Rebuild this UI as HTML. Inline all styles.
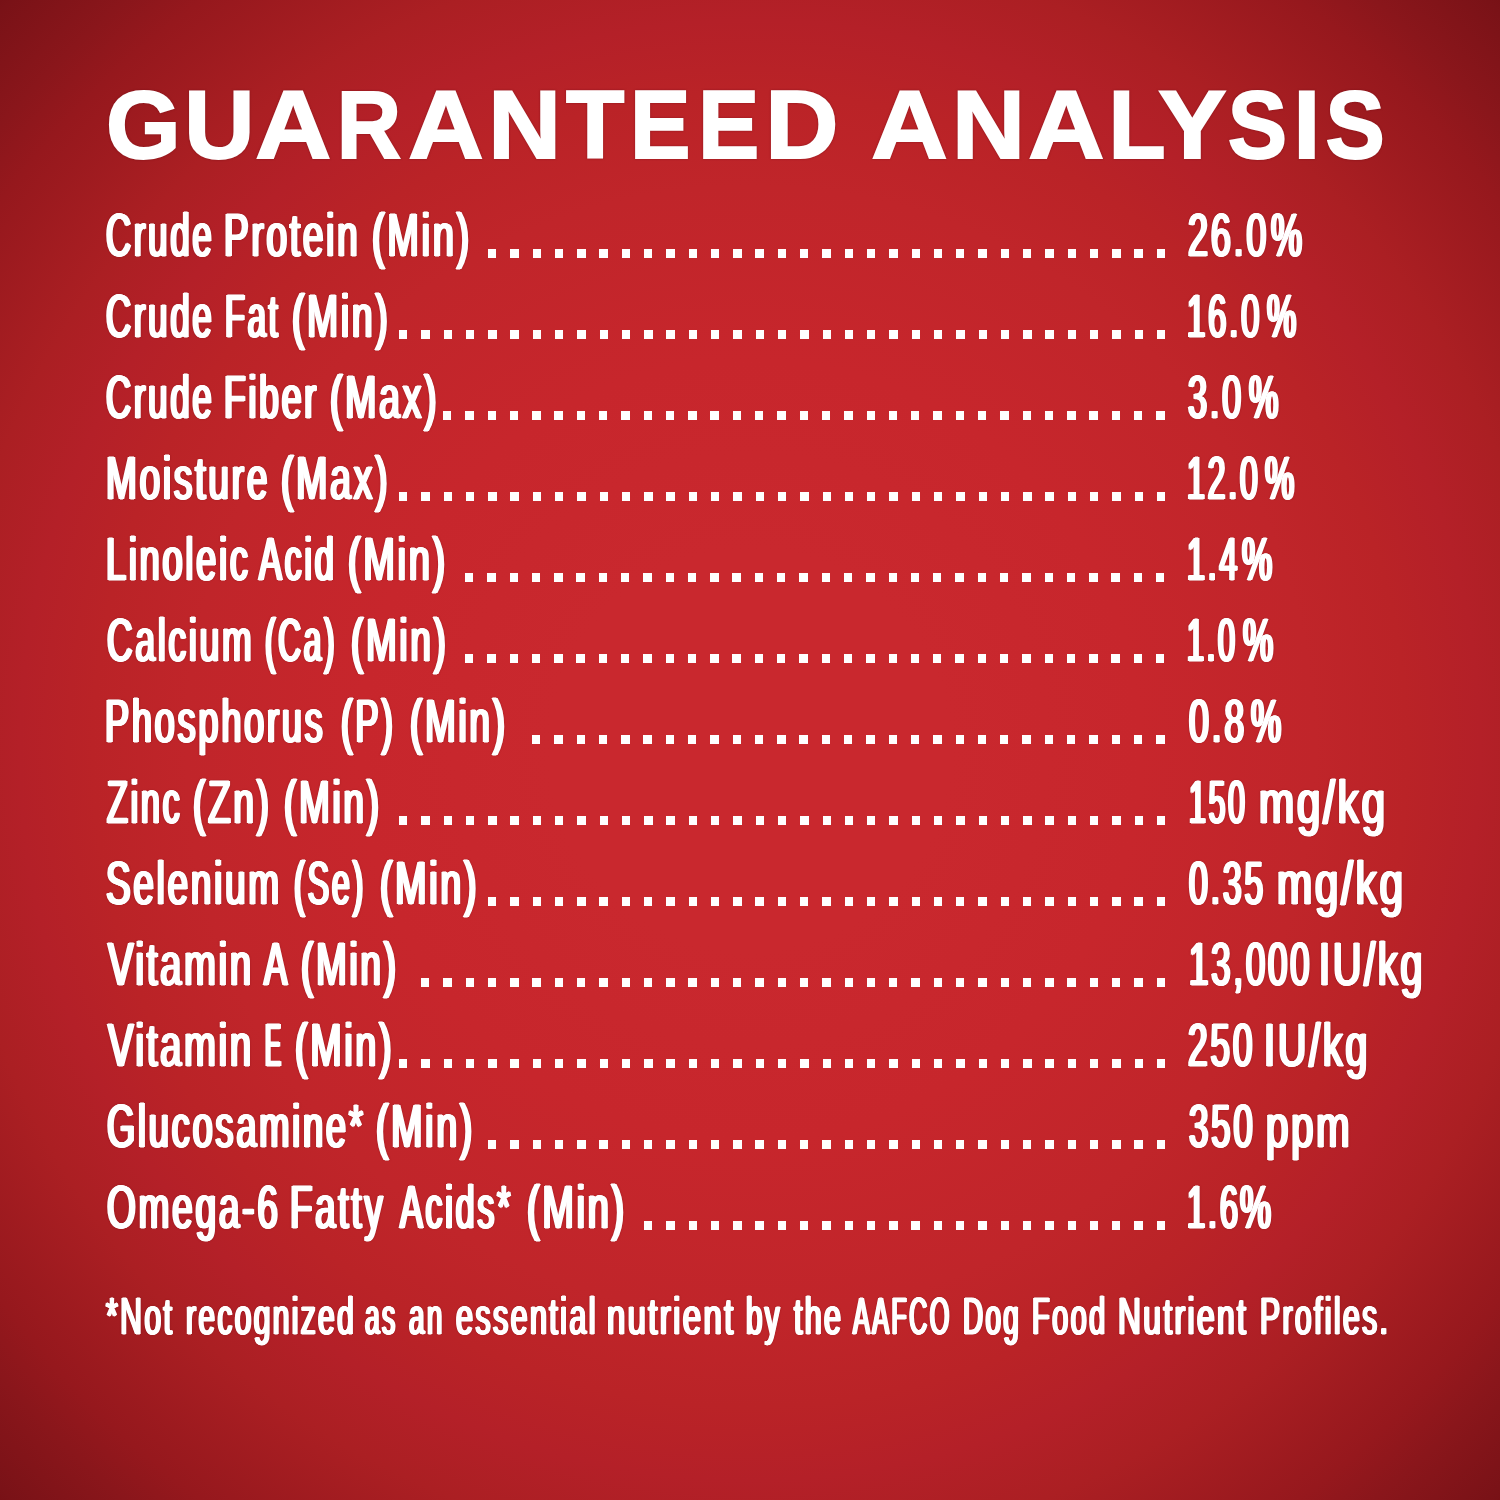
<!DOCTYPE html>
<html lang="en">
<head>
<meta charset="utf-8">
<title>Guaranteed Analysis</title>
<style>
html,body{margin:0;padding:0}
html{background:#781116}
body{width:1500px;height:1500px;overflow:hidden;position:relative;font-family:"Liberation Sans", sans-serif;color:#fff;
background:radial-gradient(circle 1061px at 750px 750px,#c9282e 0.0px,#c9282e 200.0px,#c7262c 390.0px,#c0252a 564.0px,#ba2327 657.0px,#b42028 730.0px,#ab1f23 804.0px,#96181d 928.0px,#8a161b 976.0px,#7a1217 1052.0px,#781116 1061.0px)}
.r{margin:0}
.t{position:absolute;white-space:pre;line-height:1;font-weight:normal;transform-origin:0 0;color:#fff}
.d{position:absolute;display:block;height:8.40px;
background:repeating-linear-gradient(90deg,#fff 0,#fff 8.40px,transparent 8.40px,transparent 22.290px)}
svg{position:absolute;left:0;top:0;filter:drop-shadow(0 0 1.2px rgba(105,10,16,.55))}
svg text{font-family:"Liberation Sans", sans-serif;font-weight:bold;font-size:96.08px;fill:#fff;stroke:#fff;stroke-width:2.00px;stroke-linejoin:miter}
</style>
</head>
<body>
<svg width="1500" height="200" viewBox="0 0 1500 200" role="heading" aria-label="GUARANTEED ANALYSIS"><text transform="translate(106.07 158.00) scale(0.9990 1.0000)">G</text><text transform="translate(184.23 158.00) scale(1.0121 1.0000)">U</text><text transform="translate(255.26 158.00) scale(1.0932 1.0000)">A</text><text transform="translate(336.74 158.00) scale(0.9272 1.0000)">R</text><text transform="translate(408.28 158.00) scale(1.0854 1.0000)">A</text><text transform="translate(488.21 158.00) scale(1.0491 1.0000)">N</text><text transform="translate(566.01 158.00) scale(0.9947 1.0000)">T</text><text transform="translate(630.04 158.00) scale(0.9432 1.0000)">E</text><text transform="translate(697.96 158.00) scale(0.9560 1.0000)">E</text><text transform="translate(765.37 158.00) scale(1.0542 1.0000)">D</text><text transform="translate(871.24 158.00) scale(1.1009 1.0000)">A</text><text transform="translate(951.98 158.00) scale(1.0526 1.0000)">N</text><text transform="translate(1028.25 158.00) scale(1.0963 1.0000)">A</text><text transform="translate(1108.46 158.00) scale(0.9740 1.0000)">L</text><text transform="translate(1158.33 158.00) scale(1.0631 1.0000)">Y</text><text transform="translate(1227.79 158.00) scale(0.9266 1.0000)">S</text><text transform="translate(1293.41 158.00) scale(0.9979 1.0000)">I</text><text transform="translate(1325.59 158.00) scale(0.9249 1.0000)">S</text></svg>
<div class="r"><span class="t" style="left:106.18px;top:205.21px;font-size:61.05px;letter-spacing:4.93px;-webkit-text-stroke:1.00px #fff;text-shadow:2.46px 0 0 #fff,-2.46px 0 0 #fff,1.23px 0 0 #fff,-1.23px 0 0 #fff,2.46px 0 2.0px rgba(105,10,16,.55),-2.46px 0 2.0px rgba(105,10,16,.55);transform:scaleX(0.5685)">Crude</span> <span class="t" style="left:224.38px;top:205.21px;font-size:61.05px;letter-spacing:4.63px;-webkit-text-stroke:1.00px #fff;text-shadow:2.32px 0 0 #fff,-2.32px 0 0 #fff,1.16px 0 0 #fff,-1.16px 0 0 #fff,2.32px 0 2.0px rgba(105,10,16,.55),-2.32px 0 2.0px rgba(105,10,16,.55);transform:scaleX(0.6043)">Protein</span> <span class="t" style="left:371.70px;top:205.21px;font-size:61.05px;letter-spacing:4.53px;-webkit-text-stroke:1.00px #fff;text-shadow:2.26px 0 0 #fff,-2.26px 0 0 #fff,1.13px 0 0 #fff,-1.13px 0 0 #fff,2.26px 0 2.0px rgba(105,10,16,.55),-2.26px 0 2.0px rgba(105,10,16,.55);transform:scaleX(0.6184)">(Min)</span><i class="d" style="left:487.70px;top:249.20px;width:677.10px"></i><span class="t" style="left:1188.43px;top:205.21px;font-size:61.05px;letter-spacing:4.76px;-webkit-text-stroke:1.00px #fff;text-shadow:2.38px 0 0 #fff,-2.38px 0 0 #fff,1.19px 0 0 #fff,-1.19px 0 0 #fff,2.38px 0 2.0px rgba(105,10,16,.55),-2.38px 0 2.0px rgba(105,10,16,.55);transform:scaleX(0.5885)">26.0</span><span class="t pc" style="left:1271.04px;top:205.21px;font-size:61.05px;letter-spacing:4.90px;-webkit-text-stroke:1.00px #fff;text-shadow:2.45px 0 0 #fff,-2.45px 0 0 #fff,1.23px 0 0 #fff,-1.23px 0 0 #fff,2.45px 0 2.0px rgba(105,10,16,.55),-2.45px 0 2.0px rgba(105,10,16,.55);transform:scaleX(0.5714)">%</span></div>
<div class="r"><span class="t" style="left:106.18px;top:286.21px;font-size:61.05px;letter-spacing:4.93px;-webkit-text-stroke:1.00px #fff;text-shadow:2.46px 0 0 #fff,-2.46px 0 0 #fff,1.23px 0 0 #fff,-1.23px 0 0 #fff,2.46px 0 2.0px rgba(105,10,16,.55),-2.46px 0 2.0px rgba(105,10,16,.55);transform:scaleX(0.5685)">Crude</span> <span class="t" style="left:224.69px;top:286.21px;font-size:61.05px;letter-spacing:5.24px;-webkit-text-stroke:1.00px #fff;text-shadow:2.62px 0 0 #fff,-2.62px 0 0 #fff,1.31px 0 0 #fff,-1.31px 0 0 #fff,2.62px 0 2.0px rgba(105,10,16,.55),-2.62px 0 2.0px rgba(105,10,16,.55);transform:scaleX(0.5345)">Fat</span> <span class="t" style="left:291.73px;top:286.21px;font-size:61.05px;letter-spacing:4.60px;-webkit-text-stroke:1.00px #fff;text-shadow:2.30px 0 0 #fff,-2.30px 0 0 #fff,1.15px 0 0 #fff,-1.15px 0 0 #fff,2.30px 0 2.0px rgba(105,10,16,.55),-2.30px 0 2.0px rgba(105,10,16,.55);transform:scaleX(0.6086)">(Min)</span><i class="d" style="left:398.54px;top:330.20px;width:766.26px"></i><span class="t" style="left:1187.19px;top:286.21px;font-size:61.05px;letter-spacing:5.19px;-webkit-text-stroke:1.00px #fff;text-shadow:2.60px 0 0 #fff,-2.60px 0 0 #fff,1.30px 0 0 #fff,-1.30px 0 0 #fff,2.60px 0 2.0px rgba(105,10,16,.55),-2.60px 0 2.0px rgba(105,10,16,.55);transform:scaleX(0.5392)">16.0</span><span class="t pc" style="left:1266.99px;top:286.21px;font-size:61.05px;letter-spacing:5.20px;-webkit-text-stroke:1.00px #fff;text-shadow:2.60px 0 0 #fff,-2.60px 0 0 #fff,1.30px 0 0 #fff,-1.30px 0 0 #fff,2.60px 0 2.0px rgba(105,10,16,.55),-2.60px 0 2.0px rgba(105,10,16,.55);transform:scaleX(0.5381)">%</span></div>
<div class="r"><span class="t" style="left:106.18px;top:367.21px;font-size:61.05px;letter-spacing:4.93px;-webkit-text-stroke:1.00px #fff;text-shadow:2.46px 0 0 #fff,-2.46px 0 0 #fff,1.23px 0 0 #fff,-1.23px 0 0 #fff,2.46px 0 2.0px rgba(105,10,16,.55),-2.46px 0 2.0px rgba(105,10,16,.55);transform:scaleX(0.5685)">Crude</span> <span class="t" style="left:224.48px;top:367.21px;font-size:61.05px;letter-spacing:4.81px;-webkit-text-stroke:1.00px #fff;text-shadow:2.41px 0 0 #fff,-2.41px 0 0 #fff,1.20px 0 0 #fff,-1.20px 0 0 #fff,2.41px 0 2.0px rgba(105,10,16,.55),-2.41px 0 2.0px rgba(105,10,16,.55);transform:scaleX(0.5817)">Fiber</span> <span class="t" style="left:330.42px;top:367.21px;font-size:61.05px;letter-spacing:4.58px;-webkit-text-stroke:1.00px #fff;text-shadow:2.29px 0 0 #fff,-2.29px 0 0 #fff,1.14px 0 0 #fff,-1.14px 0 0 #fff,2.29px 0 2.0px rgba(105,10,16,.55),-2.29px 0 2.0px rgba(105,10,16,.55);transform:scaleX(0.6117)">(Max)</span><i class="d" style="left:443.12px;top:411.20px;width:721.68px"></i><span class="t" style="left:1187.76px;top:367.21px;font-size:61.05px;letter-spacing:4.99px;-webkit-text-stroke:1.00px #fff;text-shadow:2.50px 0 0 #fff,-2.50px 0 0 #fff,1.25px 0 0 #fff,-1.25px 0 0 #fff,2.50px 0 2.0px rgba(105,10,16,.55),-2.50px 0 2.0px rgba(105,10,16,.55);transform:scaleX(0.5610)">3.0</span><span class="t pc" style="left:1249.39px;top:367.21px;font-size:61.05px;letter-spacing:5.18px;-webkit-text-stroke:1.00px #fff;text-shadow:2.59px 0 0 #fff,-2.59px 0 0 #fff,1.30px 0 0 #fff,-1.30px 0 0 #fff,2.59px 0 2.0px rgba(105,10,16,.55),-2.59px 0 2.0px rgba(105,10,16,.55);transform:scaleX(0.5401)">%</span></div>
<div class="r"><span class="t" style="left:105.68px;top:448.21px;font-size:61.05px;letter-spacing:4.63px;-webkit-text-stroke:1.00px #fff;text-shadow:2.31px 0 0 #fff,-2.31px 0 0 #fff,1.16px 0 0 #fff,-1.16px 0 0 #fff,2.31px 0 2.0px rgba(105,10,16,.55),-2.31px 0 2.0px rgba(105,10,16,.55);transform:scaleX(0.6054)">Moisture</span> <span class="t" style="left:281.12px;top:448.21px;font-size:61.05px;letter-spacing:4.58px;-webkit-text-stroke:1.00px #fff;text-shadow:2.29px 0 0 #fff,-2.29px 0 0 #fff,1.14px 0 0 #fff,-1.14px 0 0 #fff,2.29px 0 2.0px rgba(105,10,16,.55),-2.29px 0 2.0px rgba(105,10,16,.55);transform:scaleX(0.6117)">(Max)</span><i class="d" style="left:398.54px;top:492.20px;width:766.26px"></i><span class="t" style="left:1187.25px;top:448.21px;font-size:61.05px;letter-spacing:5.33px;-webkit-text-stroke:1.00px #fff;text-shadow:2.67px 0 0 #fff,-2.67px 0 0 #fff,1.33px 0 0 #fff,-1.33px 0 0 #fff,2.67px 0 2.0px rgba(105,10,16,.55),-2.67px 0 2.0px rgba(105,10,16,.55);transform:scaleX(0.5250)">12.0</span><span class="t pc" style="left:1265.39px;top:448.21px;font-size:61.05px;letter-spacing:5.20px;-webkit-text-stroke:1.00px #fff;text-shadow:2.60px 0 0 #fff,-2.60px 0 0 #fff,1.30px 0 0 #fff,-1.30px 0 0 #fff,2.60px 0 2.0px rgba(105,10,16,.55),-2.60px 0 2.0px rgba(105,10,16,.55);transform:scaleX(0.5381)">%</span></div>
<div class="r"><span class="t" style="left:105.74px;top:529.21px;font-size:61.05px;letter-spacing:4.74px;-webkit-text-stroke:1.00px #fff;text-shadow:2.37px 0 0 #fff,-2.37px 0 0 #fff,1.18px 0 0 #fff,-1.18px 0 0 #fff,2.37px 0 2.0px rgba(105,10,16,.55),-2.37px 0 2.0px rgba(105,10,16,.55);transform:scaleX(0.5907)">Linoleic</span> <span class="t" style="left:259.38px;top:529.21px;font-size:61.05px;letter-spacing:5.01px;-webkit-text-stroke:1.00px #fff;text-shadow:2.51px 0 0 #fff,-2.51px 0 0 #fff,1.25px 0 0 #fff,-1.25px 0 0 #fff,2.51px 0 2.0px rgba(105,10,16,.55),-2.51px 0 2.0px rgba(105,10,16,.55);transform:scaleX(0.5586)">Acid</span> <span class="t" style="left:347.70px;top:529.21px;font-size:61.05px;letter-spacing:4.53px;-webkit-text-stroke:1.00px #fff;text-shadow:2.26px 0 0 #fff,-2.26px 0 0 #fff,1.13px 0 0 #fff,-1.13px 0 0 #fff,2.26px 0 2.0px rgba(105,10,16,.55),-2.26px 0 2.0px rgba(105,10,16,.55);transform:scaleX(0.6184)">(Min)</span><i class="d" style="left:465.41px;top:573.20px;width:699.39px"></i><span class="t" style="left:1187.24px;top:529.21px;font-size:61.05px;letter-spacing:5.31px;-webkit-text-stroke:1.00px #fff;text-shadow:2.65px 0 0 #fff,-2.65px 0 0 #fff,1.33px 0 0 #fff,-1.33px 0 0 #fff,2.65px 0 2.0px rgba(105,10,16,.55),-2.65px 0 2.0px rgba(105,10,16,.55);transform:scaleX(0.5275)">1.4</span><span class="t pc" style="left:1242.17px;top:529.21px;font-size:61.05px;letter-spacing:5.04px;-webkit-text-stroke:1.00px #fff;text-shadow:2.52px 0 0 #fff,-2.52px 0 0 #fff,1.26px 0 0 #fff,-1.26px 0 0 #fff,2.52px 0 2.0px rgba(105,10,16,.55),-2.52px 0 2.0px rgba(105,10,16,.55);transform:scaleX(0.5558)">%</span></div>
<div class="r"><span class="t" style="left:106.65px;top:610.21px;font-size:61.05px;letter-spacing:4.83px;-webkit-text-stroke:1.00px #fff;text-shadow:2.42px 0 0 #fff,-2.42px 0 0 #fff,1.21px 0 0 #fff,-1.21px 0 0 #fff,2.42px 0 2.0px rgba(105,10,16,.55),-2.42px 0 2.0px rgba(105,10,16,.55);transform:scaleX(0.5794)">Calcium</span> <span class="t" style="left:264.83px;top:610.21px;font-size:61.05px;letter-spacing:5.44px;-webkit-text-stroke:1.00px #fff;text-shadow:2.72px 0 0 #fff,-2.72px 0 0 #fff,1.36px 0 0 #fff,-1.36px 0 0 #fff,2.72px 0 2.0px rgba(105,10,16,.55),-2.72px 0 2.0px rgba(105,10,16,.55);transform:scaleX(0.5149)">(Ca)</span> <span class="t" style="left:351.15px;top:610.21px;font-size:61.05px;letter-spacing:4.65px;-webkit-text-stroke:1.00px #fff;text-shadow:2.33px 0 0 #fff,-2.33px 0 0 #fff,1.16px 0 0 #fff,-1.16px 0 0 #fff,2.33px 0 2.0px rgba(105,10,16,.55),-2.33px 0 2.0px rgba(105,10,16,.55);transform:scaleX(0.6018)">(Min)</span><i class="d" style="left:465.41px;top:654.20px;width:699.39px"></i><span class="t" style="left:1187.36px;top:610.21px;font-size:61.05px;letter-spacing:5.61px;-webkit-text-stroke:1.00px #fff;text-shadow:2.81px 0 0 #fff,-2.81px 0 0 #fff,1.40px 0 0 #fff,-1.40px 0 0 #fff,2.81px 0 2.0px rgba(105,10,16,.55),-2.81px 0 2.0px rgba(105,10,16,.55);transform:scaleX(0.4987)">1.0</span><span class="t pc" style="left:1242.97px;top:610.21px;font-size:61.05px;letter-spacing:5.04px;-webkit-text-stroke:1.00px #fff;text-shadow:2.52px 0 0 #fff,-2.52px 0 0 #fff,1.26px 0 0 #fff,-1.26px 0 0 #fff,2.52px 0 2.0px rgba(105,10,16,.55),-2.52px 0 2.0px rgba(105,10,16,.55);transform:scaleX(0.5558)">%</span></div>
<div class="r"><span class="t" style="left:105.44px;top:691.21px;font-size:61.05px;letter-spacing:4.74px;-webkit-text-stroke:1.00px #fff;text-shadow:2.37px 0 0 #fff,-2.37px 0 0 #fff,1.18px 0 0 #fff,-1.18px 0 0 #fff,2.37px 0 2.0px rgba(105,10,16,.55),-2.37px 0 2.0px rgba(105,10,16,.55);transform:scaleX(0.5909)">Phosphorus</span> <span class="t" style="left:340.95px;top:691.21px;font-size:61.05px;letter-spacing:4.91px;-webkit-text-stroke:1.00px #fff;text-shadow:2.46px 0 0 #fff,-2.46px 0 0 #fff,1.23px 0 0 #fff,-1.23px 0 0 #fff,2.46px 0 2.0px rgba(105,10,16,.55),-2.46px 0 2.0px rgba(105,10,16,.55);transform:scaleX(0.5700)">(P)</span> <span class="t" style="left:409.75px;top:691.21px;font-size:61.05px;letter-spacing:4.65px;-webkit-text-stroke:1.00px #fff;text-shadow:2.32px 0 0 #fff,-2.32px 0 0 #fff,1.16px 0 0 #fff,-1.16px 0 0 #fff,2.32px 0 2.0px rgba(105,10,16,.55),-2.32px 0 2.0px rgba(105,10,16,.55);transform:scaleX(0.6026)">(Min)</span><i class="d" style="left:532.28px;top:735.20px;width:632.52px"></i><span class="t" style="left:1188.52px;top:691.21px;font-size:61.05px;letter-spacing:4.78px;-webkit-text-stroke:1.00px #fff;text-shadow:2.39px 0 0 #fff,-2.39px 0 0 #fff,1.20px 0 0 #fff,-1.20px 0 0 #fff,2.39px 0 2.0px rgba(105,10,16,.55),-2.39px 0 2.0px rgba(105,10,16,.55);transform:scaleX(0.5853)">0.8</span><span class="t pc" style="left:1250.97px;top:691.21px;font-size:61.05px;letter-spacing:5.04px;-webkit-text-stroke:1.00px #fff;text-shadow:2.52px 0 0 #fff,-2.52px 0 0 #fff,1.26px 0 0 #fff,-1.26px 0 0 #fff,2.52px 0 2.0px rgba(105,10,16,.55),-2.52px 0 2.0px rgba(105,10,16,.55);transform:scaleX(0.5558)">%</span></div>
<div class="r"><span class="t" style="left:106.72px;top:772.21px;font-size:61.05px;letter-spacing:5.02px;-webkit-text-stroke:1.00px #fff;text-shadow:2.51px 0 0 #fff,-2.51px 0 0 #fff,1.25px 0 0 #fff,-1.25px 0 0 #fff,2.51px 0 2.0px rgba(105,10,16,.55),-2.51px 0 2.0px rgba(105,10,16,.55);transform:scaleX(0.5579)">Zinc</span> <span class="t" style="left:192.74px;top:772.21px;font-size:61.05px;letter-spacing:4.63px;-webkit-text-stroke:1.00px #fff;text-shadow:2.32px 0 0 #fff,-2.32px 0 0 #fff,1.16px 0 0 #fff,-1.16px 0 0 #fff,2.32px 0 2.0px rgba(105,10,16,.55),-2.32px 0 2.0px rgba(105,10,16,.55);transform:scaleX(0.6042)">(Zn)</span> <span class="t" style="left:283.65px;top:772.21px;font-size:61.05px;letter-spacing:4.65px;-webkit-text-stroke:1.00px #fff;text-shadow:2.32px 0 0 #fff,-2.32px 0 0 #fff,1.16px 0 0 #fff,-1.16px 0 0 #fff,2.32px 0 2.0px rgba(105,10,16,.55),-2.32px 0 2.0px rgba(105,10,16,.55);transform:scaleX(0.6026)">(Min)</span><i class="d" style="left:398.54px;top:816.20px;width:766.26px"></i><span class="t" style="left:1189.38px;top:772.21px;font-size:61.05px;letter-spacing:5.67px;-webkit-text-stroke:1.00px #fff;text-shadow:2.84px 0 0 #fff,-2.84px 0 0 #fff,1.42px 0 0 #fff,-1.42px 0 0 #fff,2.84px 0 2.0px rgba(105,10,16,.55),-2.84px 0 2.0px rgba(105,10,16,.55);transform:scaleX(0.4937)">150</span> <span class="t" style="left:1258.98px;top:772.21px;font-size:61.05px;letter-spacing:4.05px;-webkit-text-stroke:1.00px #fff;text-shadow:2.03px 0 0 #fff,-2.03px 0 0 #fff,1.01px 0 0 #fff,-1.01px 0 0 #fff,2.03px 0 2.0px rgba(105,10,16,.55),-2.03px 0 2.0px rgba(105,10,16,.55);transform:scaleX(0.6905)">mg/kg</span></div>
<div class="r"><span class="t" style="left:106.04px;top:853.21px;font-size:61.05px;letter-spacing:4.64px;-webkit-text-stroke:1.00px #fff;text-shadow:2.32px 0 0 #fff,-2.32px 0 0 #fff,1.16px 0 0 #fff,-1.16px 0 0 #fff,2.32px 0 2.0px rgba(105,10,16,.55),-2.32px 0 2.0px rgba(105,10,16,.55);transform:scaleX(0.6029)">Selenium</span> <span class="t" style="left:294.19px;top:853.21px;font-size:61.05px;letter-spacing:5.30px;-webkit-text-stroke:1.00px #fff;text-shadow:2.65px 0 0 #fff,-2.65px 0 0 #fff,1.33px 0 0 #fff,-1.33px 0 0 #fff,2.65px 0 2.0px rgba(105,10,16,.55),-2.65px 0 2.0px rgba(105,10,16,.55);transform:scaleX(0.5281)">(Se)</span> <span class="t" style="left:380.41px;top:853.21px;font-size:61.05px;letter-spacing:4.57px;-webkit-text-stroke:1.00px #fff;text-shadow:2.28px 0 0 #fff,-2.28px 0 0 #fff,1.14px 0 0 #fff,-1.14px 0 0 #fff,2.28px 0 2.0px rgba(105,10,16,.55),-2.28px 0 2.0px rgba(105,10,16,.55);transform:scaleX(0.6132)">(Min)</span><i class="d" style="left:487.70px;top:897.20px;width:677.10px"></i><span class="t" style="left:1188.57px;top:853.21px;font-size:61.05px;letter-spacing:5.05px;-webkit-text-stroke:1.00px #fff;text-shadow:2.53px 0 0 #fff,-2.53px 0 0 #fff,1.26px 0 0 #fff,-1.26px 0 0 #fff,2.53px 0 2.0px rgba(105,10,16,.55),-2.53px 0 2.0px rgba(105,10,16,.55);transform:scaleX(0.5541)">0.35</span> <span class="t" style="left:1276.98px;top:853.21px;font-size:61.05px;letter-spacing:4.05px;-webkit-text-stroke:1.00px #fff;text-shadow:2.03px 0 0 #fff,-2.03px 0 0 #fff,1.01px 0 0 #fff,-1.01px 0 0 #fff,2.03px 0 2.0px rgba(105,10,16,.55),-2.03px 0 2.0px rgba(105,10,16,.55);transform:scaleX(0.6905)">mg/kg</span></div>
<div class="r"><span class="t" style="left:107.81px;top:934.21px;font-size:61.05px;letter-spacing:4.49px;-webkit-text-stroke:1.00px #fff;text-shadow:2.24px 0 0 #fff,-2.24px 0 0 #fff,1.12px 0 0 #fff,-1.12px 0 0 #fff,2.24px 0 2.0px rgba(105,10,16,.55),-2.24px 0 2.0px rgba(105,10,16,.55);transform:scaleX(0.6240)">Vitamin</span> <span class="t" style="left:263.88px;top:934.21px;font-size:61.05px;letter-spacing:4.92px;-webkit-text-stroke:1.00px #fff;text-shadow:2.46px 0 0 #fff,-2.46px 0 0 #fff,1.23px 0 0 #fff,-1.23px 0 0 #fff,2.46px 0 2.0px rgba(105,10,16,.55),-2.46px 0 2.0px rgba(105,10,16,.55);transform:scaleX(0.5693)">A</span> <span class="t" style="left:301.25px;top:934.21px;font-size:61.05px;letter-spacing:4.65px;-webkit-text-stroke:1.00px #fff;text-shadow:2.32px 0 0 #fff,-2.32px 0 0 #fff,1.16px 0 0 #fff,-1.16px 0 0 #fff,2.32px 0 2.0px rgba(105,10,16,.55),-2.32px 0 2.0px rgba(105,10,16,.55);transform:scaleX(0.6026)">(Min)</span><i class="d" style="left:420.83px;top:978.20px;width:743.97px"></i><span class="t" style="left:1189.06px;top:934.21px;font-size:61.05px;letter-spacing:4.90px;-webkit-text-stroke:1.00px #fff;text-shadow:2.45px 0 0 #fff,-2.45px 0 0 #fff,1.23px 0 0 #fff,-1.23px 0 0 #fff,2.45px 0 2.0px rgba(105,10,16,.55),-2.45px 0 2.0px rgba(105,10,16,.55);transform:scaleX(0.5709)">13,000</span> <span class="t" style="left:1319.12px;top:934.21px;font-size:61.05px;letter-spacing:4.33px;-webkit-text-stroke:1.00px #fff;text-shadow:2.16px 0 0 #fff,-2.16px 0 0 #fff,1.08px 0 0 #fff,-1.08px 0 0 #fff,2.16px 0 2.0px rgba(105,10,16,.55),-2.16px 0 2.0px rgba(105,10,16,.55);transform:scaleX(0.6472)">IU/kg</span></div>
<div class="r"><span class="t" style="left:107.81px;top:1015.21px;font-size:61.05px;letter-spacing:4.49px;-webkit-text-stroke:1.00px #fff;text-shadow:2.24px 0 0 #fff,-2.24px 0 0 #fff,1.12px 0 0 #fff,-1.12px 0 0 #fff,2.24px 0 2.0px rgba(105,10,16,.55),-2.24px 0 2.0px rgba(105,10,16,.55);transform:scaleX(0.6240)">Vitamin</span> <span class="t" style="left:264.73px;top:1015.21px;font-size:61.05px;letter-spacing:7.13px;-webkit-text-stroke:1.00px #fff;text-shadow:3.56px 0 0 #fff,-3.56px 0 0 #fff,1.78px 0 0 #fff,-1.78px 0 0 #fff,3.56px 0 2.0px rgba(105,10,16,.55),-3.56px 0 2.0px rgba(105,10,16,.55);transform:scaleX(0.3928)">E</span> <span class="t" style="left:295.31px;top:1015.21px;font-size:61.05px;letter-spacing:4.56px;-webkit-text-stroke:1.00px #fff;text-shadow:2.28px 0 0 #fff,-2.28px 0 0 #fff,1.14px 0 0 #fff,-1.14px 0 0 #fff,2.28px 0 2.0px rgba(105,10,16,.55),-2.28px 0 2.0px rgba(105,10,16,.55);transform:scaleX(0.6139)">(Min)</span><i class="d" style="left:398.54px;top:1059.20px;width:766.26px"></i><span class="t" style="left:1187.96px;top:1015.21px;font-size:61.05px;letter-spacing:4.85px;-webkit-text-stroke:1.00px #fff;text-shadow:2.42px 0 0 #fff,-2.42px 0 0 #fff,1.21px 0 0 #fff,-1.21px 0 0 #fff,2.42px 0 2.0px rgba(105,10,16,.55),-2.42px 0 2.0px rgba(105,10,16,.55);transform:scaleX(0.5776)">250</span> <span class="t" style="left:1264.12px;top:1015.21px;font-size:61.05px;letter-spacing:4.33px;-webkit-text-stroke:1.00px #fff;text-shadow:2.16px 0 0 #fff,-2.16px 0 0 #fff,1.08px 0 0 #fff,-1.08px 0 0 #fff,2.16px 0 2.0px rgba(105,10,16,.55),-2.16px 0 2.0px rgba(105,10,16,.55);transform:scaleX(0.6472)">IU/kg</span></div>
<div class="r"><span class="t" style="left:106.82px;top:1096.21px;font-size:61.05px;letter-spacing:4.73px;-webkit-text-stroke:1.00px #fff;text-shadow:2.36px 0 0 #fff,-2.36px 0 0 #fff,1.18px 0 0 #fff,-1.18px 0 0 #fff,2.36px 0 2.0px rgba(105,10,16,.55),-2.36px 0 2.0px rgba(105,10,16,.55);transform:scaleX(0.5923)">Glucosamine*</span> <span class="t" style="left:376.22px;top:1096.21px;font-size:61.05px;letter-spacing:4.57px;-webkit-text-stroke:1.00px #fff;text-shadow:2.29px 0 0 #fff,-2.29px 0 0 #fff,1.14px 0 0 #fff,-1.14px 0 0 #fff,2.29px 0 2.0px rgba(105,10,16,.55),-2.29px 0 2.0px rgba(105,10,16,.55);transform:scaleX(0.6124)">(Min)</span><i class="d" style="left:487.70px;top:1140.20px;width:677.10px"></i><span class="t" style="left:1188.54px;top:1096.21px;font-size:61.05px;letter-spacing:4.90px;-webkit-text-stroke:1.00px #fff;text-shadow:2.45px 0 0 #fff,-2.45px 0 0 #fff,1.22px 0 0 #fff,-1.22px 0 0 #fff,2.45px 0 2.0px rgba(105,10,16,.55),-2.45px 0 2.0px rgba(105,10,16,.55);transform:scaleX(0.5717)">350</span> <span class="t" style="left:1266.10px;top:1096.21px;font-size:61.05px;letter-spacing:4.26px;-webkit-text-stroke:1.00px #fff;text-shadow:2.13px 0 0 #fff,-2.13px 0 0 #fff,1.07px 0 0 #fff,-1.07px 0 0 #fff,2.13px 0 2.0px rgba(105,10,16,.55),-2.13px 0 2.0px rgba(105,10,16,.55);transform:scaleX(0.6571)">ppm</span></div>
<div class="r"><span class="t" style="left:106.86px;top:1177.21px;font-size:61.05px;letter-spacing:4.63px;-webkit-text-stroke:1.00px #fff;text-shadow:2.31px 0 0 #fff,-2.31px 0 0 #fff,1.16px 0 0 #fff,-1.16px 0 0 #fff,2.31px 0 2.0px rgba(105,10,16,.55),-2.31px 0 2.0px rgba(105,10,16,.55);transform:scaleX(0.6053)">Omega-6</span> <span class="t" style="left:289.70px;top:1177.21px;font-size:61.05px;letter-spacing:4.66px;-webkit-text-stroke:1.00px #fff;text-shadow:2.33px 0 0 #fff,-2.33px 0 0 #fff,1.17px 0 0 #fff,-1.17px 0 0 #fff,2.33px 0 2.0px rgba(105,10,16,.55),-2.33px 0 2.0px rgba(105,10,16,.55);transform:scaleX(0.6008)">Fatty</span> <span class="t" style="left:399.78px;top:1177.21px;font-size:61.05px;letter-spacing:5.03px;-webkit-text-stroke:1.00px #fff;text-shadow:2.52px 0 0 #fff,-2.52px 0 0 #fff,1.26px 0 0 #fff,-1.26px 0 0 #fff,2.52px 0 2.0px rgba(105,10,16,.55),-2.52px 0 2.0px rgba(105,10,16,.55);transform:scaleX(0.5566)">Acids*</span> <span class="t" style="left:526.70px;top:1177.21px;font-size:61.05px;letter-spacing:4.53px;-webkit-text-stroke:1.00px #fff;text-shadow:2.27px 0 0 #fff,-2.27px 0 0 #fff,1.13px 0 0 #fff,-1.13px 0 0 #fff,2.27px 0 2.0px rgba(105,10,16,.55),-2.27px 0 2.0px rgba(105,10,16,.55);transform:scaleX(0.6177)">(Min)</span><i class="d" style="left:643.73px;top:1221.20px;width:521.07px"></i><span class="t" style="left:1186.71px;top:1177.21px;font-size:61.05px;letter-spacing:5.23px;-webkit-text-stroke:1.00px #fff;text-shadow:2.62px 0 0 #fff,-2.62px 0 0 #fff,1.31px 0 0 #fff,-1.31px 0 0 #fff,2.62px 0 2.0px rgba(105,10,16,.55),-2.62px 0 2.0px rgba(105,10,16,.55);transform:scaleX(0.5349)">1.6</span><span class="t pc" style="left:1240.04px;top:1177.21px;font-size:61.05px;letter-spacing:4.90px;-webkit-text-stroke:1.00px #fff;text-shadow:2.45px 0 0 #fff,-2.45px 0 0 #fff,1.23px 0 0 #fff,-1.23px 0 0 #fff,2.45px 0 2.0px rgba(105,10,16,.55),-2.45px 0 2.0px rgba(105,10,16,.55);transform:scaleX(0.5714)">%</span></div>
<p class="r"><span class="t" style="left:105.68px;top:1290.61px;font-size:51.60px;letter-spacing:4.10px;-webkit-text-stroke:0.80px #fff;text-shadow:2.05px 0 0 #fff,-2.05px 0 0 #fff,1.03px 0 0 #fff,-1.03px 0 0 #fff,2.05px 0 2.0px rgba(105,10,16,.55),-2.05px 0 2.0px rgba(105,10,16,.55);transform:scaleX(0.5848)">*Not</span> <span class="t" style="left:185.60px;top:1290.61px;font-size:51.60px;letter-spacing:4.15px;-webkit-text-stroke:0.80px #fff;text-shadow:2.07px 0 0 #fff,-2.07px 0 0 #fff,1.04px 0 0 #fff,-1.04px 0 0 #fff,2.07px 0 2.0px rgba(105,10,16,.55),-2.07px 0 2.0px rgba(105,10,16,.55);transform:scaleX(0.5787)">recognized</span> <span class="t" style="left:365.18px;top:1290.61px;font-size:51.60px;letter-spacing:4.71px;-webkit-text-stroke:0.80px #fff;text-shadow:2.35px 0 0 #fff,-2.35px 0 0 #fff,1.18px 0 0 #fff,-1.18px 0 0 #fff,2.35px 0 2.0px rgba(105,10,16,.55),-2.35px 0 2.0px rgba(105,10,16,.55);transform:scaleX(0.5097)">as</span> <span class="t" style="left:409.14px;top:1290.61px;font-size:51.60px;letter-spacing:4.46px;-webkit-text-stroke:0.80px #fff;text-shadow:2.23px 0 0 #fff,-2.23px 0 0 #fff,1.11px 0 0 #fff,-1.11px 0 0 #fff,2.23px 0 2.0px rgba(105,10,16,.55),-2.23px 0 2.0px rgba(105,10,16,.55);transform:scaleX(0.5384)">an</span> <span class="t" style="left:455.76px;top:1290.61px;font-size:51.60px;letter-spacing:4.06px;-webkit-text-stroke:0.80px #fff;text-shadow:2.03px 0 0 #fff,-2.03px 0 0 #fff,1.02px 0 0 #fff,-1.02px 0 0 #fff,2.03px 0 2.0px rgba(105,10,16,.55),-2.03px 0 2.0px rgba(105,10,16,.55);transform:scaleX(0.5906)">essential</span> <span class="t" style="left:607.05px;top:1290.61px;font-size:51.60px;letter-spacing:3.77px;-webkit-text-stroke:0.80px #fff;text-shadow:1.89px 0 0 #fff,-1.89px 0 0 #fff,0.94px 0 0 #fff,-0.94px 0 0 #fff,1.89px 0 2.0px rgba(105,10,16,.55),-1.89px 0 2.0px rgba(105,10,16,.55);transform:scaleX(0.6360)">nutrient</span> <span class="t" style="left:746.41px;top:1290.61px;font-size:51.60px;letter-spacing:4.20px;-webkit-text-stroke:0.80px #fff;text-shadow:2.10px 0 0 #fff,-2.10px 0 0 #fff,1.05px 0 0 #fff,-1.05px 0 0 #fff,2.10px 0 2.0px rgba(105,10,16,.55),-2.10px 0 2.0px rgba(105,10,16,.55);transform:scaleX(0.5717)">by</span> <span class="t" style="left:794.31px;top:1290.61px;font-size:51.60px;letter-spacing:4.09px;-webkit-text-stroke:0.80px #fff;text-shadow:2.04px 0 0 #fff,-2.04px 0 0 #fff,1.02px 0 0 #fff,-1.02px 0 0 #fff,2.04px 0 2.0px rgba(105,10,16,.55),-2.04px 0 2.0px rgba(105,10,16,.55);transform:scaleX(0.5868)">the</span> <span class="t" style="left:852.90px;top:1290.61px;font-size:51.60px;letter-spacing:4.92px;-webkit-text-stroke:0.80px #fff;text-shadow:2.46px 0 0 #fff,-2.46px 0 0 #fff,1.23px 0 0 #fff,-1.23px 0 0 #fff,2.46px 0 2.0px rgba(105,10,16,.55),-2.46px 0 2.0px rgba(105,10,16,.55);transform:scaleX(0.4876)">AAFCO</span> <span class="t" style="left:963.26px;top:1290.61px;font-size:51.60px;letter-spacing:4.46px;-webkit-text-stroke:0.80px #fff;text-shadow:2.23px 0 0 #fff,-2.23px 0 0 #fff,1.11px 0 0 #fff,-1.11px 0 0 #fff,2.23px 0 2.0px rgba(105,10,16,.55),-2.23px 0 2.0px rgba(105,10,16,.55);transform:scaleX(0.5385)">Dog</span> <span class="t" style="left:1032.48px;top:1290.61px;font-size:51.60px;letter-spacing:4.28px;-webkit-text-stroke:0.80px #fff;text-shadow:2.14px 0 0 #fff,-2.14px 0 0 #fff,1.07px 0 0 #fff,-1.07px 0 0 #fff,2.14px 0 2.0px rgba(105,10,16,.55),-2.14px 0 2.0px rgba(105,10,16,.55);transform:scaleX(0.5612)">Food</span> <span class="t" style="left:1117.69px;top:1290.61px;font-size:51.60px;letter-spacing:3.91px;-webkit-text-stroke:0.80px #fff;text-shadow:1.95px 0 0 #fff,-1.95px 0 0 #fff,0.98px 0 0 #fff,-0.98px 0 0 #fff,1.95px 0 2.0px rgba(105,10,16,.55),-1.95px 0 2.0px rgba(105,10,16,.55);transform:scaleX(0.6145)">Nutrient</span> <span class="t" style="left:1259.90px;top:1290.61px;font-size:51.60px;letter-spacing:4.11px;-webkit-text-stroke:0.80px #fff;text-shadow:2.06px 0 0 #fff,-2.06px 0 0 #fff,1.03px 0 0 #fff,-1.03px 0 0 #fff,2.06px 0 2.0px rgba(105,10,16,.55),-2.06px 0 2.0px rgba(105,10,16,.55);transform:scaleX(0.5833)">Profiles.</span></p>
</body>
</html>
